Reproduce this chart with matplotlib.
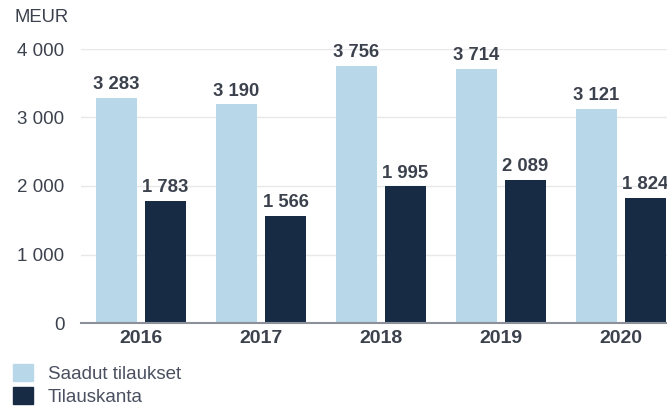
"""Orders received and order backlog, 2016-2020."""

import matplotlib.pyplot as plt
import numpy as np
from matplotlib.patches import Patch

years = ["2016", "2017", "2018", "2019", "2020"]
saadut_tilaukset = [3283, 3190, 3756, 3714, 3121]
tilauskanta = [1783, 1566, 1995, 2089, 1824]
series_names = ["Saadut tilaukset", "Tilauskanta"]
y_ticks = [0, 1000, 2000, 3000, 4000]

LIGHT = "#b8d8ea"
DARK = "#172b45"
TEXT = "#3c424d"
GRID = "#e8e8e8"

plt.rcParams["font.family"] = ["Liberation Sans", "DejaVu Sans"]


def fmt(v):
    return f"{v:,}".replace(",", " ")


fig = plt.figure(figsize=(6.67, 4.08), dpi=100)
ax = fig.add_axes([81 / 667, 1 - 323 / 408, 1 - 81 / 667, (323 - 49) / 408])

x = np.arange(len(years))
w = 0.342
off = 0.204
b1 = ax.bar(x - off, saadut_tilaukset, w, color=LIGHT, zorder=2)
b2 = ax.bar(x + off, tilauskanta, w, color=DARK, zorder=2)

for bars, vals in ((b1, saadut_tilaukset), (b2, tilauskanta)):
    for rect, v in zip(bars, vals):
        ax.text(rect.get_x() + rect.get_width() / 2, v + 70, fmt(v),
                ha="center", va="bottom", fontsize=13.3, fontweight="bold",
                color=TEXT, clip_on=False)

ax.set_xlim(-0.5, 4.383)
ax.set_ylim(0, 4000)
ax.set_yticks(y_ticks)
ax.set_yticklabels([fmt(t) for t in y_ticks])
ax.set_xticks(x)
ax.set_xticklabels(years, fontweight="bold")
ax.tick_params(axis="y", length=0, pad=12, labelsize=13.5, labelcolor=TEXT)
ax.tick_params(axis="x", length=0, pad=5, labelsize=14, labelcolor=TEXT)
for lbl in ax.get_yticklabels():
    lbl.set_horizontalalignment("right")

ax.grid(axis="y", color=GRID, linewidth=1, zorder=0)
ax.set_axisbelow(True)
for s in ("top", "right", "left"):
    ax.spines[s].set_visible(False)
ax.spines["bottom"].set_color("#8c9099")
ax.spines["bottom"].set_linewidth(1.5)
ax.spines["bottom"].set_zorder(3)

fig.text(14 / 667, 1 - 17 / 408, "MEUR", ha="left", va="center",
         fontsize=13.3, color=TEXT)

handles = [Patch(color=LIGHT), Patch(color=DARK)]
fig.legend(handles, series_names, loc="lower left",
           bbox_to_anchor=(13 / 667, 2 / 408), frameon=False,
           borderpad=0, borderaxespad=0, handlelength=1.07, handleheight=1.07,
           handletextpad=0.8, labelspacing=0.2, fontsize=13.5,
           labelcolor="#4a5060")

fig.savefig("out.png", dpi=100)
